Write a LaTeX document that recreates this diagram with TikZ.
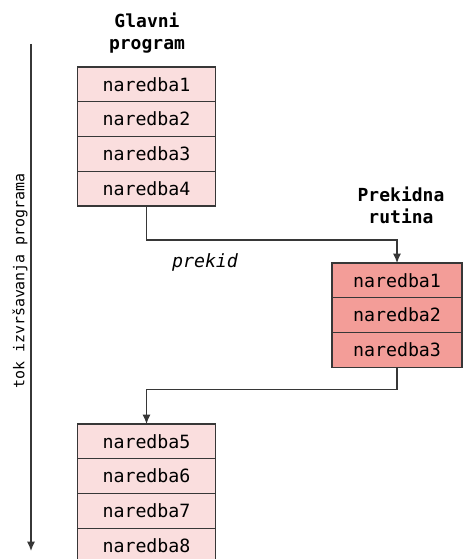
\documentclass[tikz,border=0pt]{standalone}
\usepackage{fontspec}
\usepackage{xcolor}
\usepackage{tikz}
\usetikzlibrary{positioning,arrows.meta}
\newfontfamily\kodfont{DejaVu Sans Mono}
\definecolor{glavnaboja}{RGB}{250,222,222}
\definecolor{prekidboja}{RGB}{243,157,152}
\definecolor{rubboja}{RGB}{55,55,55}
\tikzset{
    naredba/.style={draw=rubboja,
    line width=0.9pt,
    minimum width=104pt,
    minimum height=26.06pt,
    inner sep=0pt,
    outer sep=0pt,
    font=\kodfont\fontsize{13.7}{15}\selectfont},
    glavna/.style={naredba, fill=glavnaboja},
    rutina/.style={naredba, fill=prekidboja, minimum width=97.5pt},
    naslov/.style={align=center, font=\kodfont\bfseries\fontsize{13.5}{16.5}\selectfont},
    veza/.style={draw=rubboja, line width=0.9pt, -{Latex[length=7pt,width=6pt]}}
}

\begin{document}
\begin{tikzpicture}[x=0.75pt,y=-0.75pt]
    \useasboundingbox (0,0) rectangle (463,559);
    \clip (0,0) rectangle (463,559);
    % os toka
    \coordinate (tokpocetak) at (31,44);
    \coordinate (tokkraj) at (31,551);
    \draw[veza] (tokpocetak) -- (tokkraj);
    \node [rotate=90,
    font=\kodfont\fontsize{11.2}{13}\selectfont] (toktekst) at (20,281) {tok izvršavanja programa};
    % glavni program
    \node [naslov] (glavninaslov) at (147,33) {Glavni\\program};
    \node [glavna] (g1) at (146.5,84.4) {naredba1};
    \node [glavna, below=0pt of g1] (g2) {naredba2};
    \node [glavna, below=0pt of g2] (g3) {naredba3};
    \node [glavna, below=0pt of g3] (g4) {naredba4};
    % prekidna rutina
    \node [naslov] (rutinanaslov) at (401,205) {Prekidna\\rutina};
    \node [rutina] (r1) at (397,280.4) {naredba1};
    \node [rutina, below=0pt of r1] (r2) {naredba2};
    \node [rutina, below=0pt of r2] (r3) {naredba3};
    % nastavak
    \node [glavna] (p1) at (146.5,441.4) {naredba5};
    \node [glavna, below=0pt of p1] (p2) {naredba6};
    \node [glavna, below=0pt of p2] (p3) {naredba7};
    \node [glavna, below=0pt of p3] (p4) {naredba8};
    % skokovi
    \draw[veza] (g4.south) -- ++(0,34) -| (r1.north);
    \node [font=\kodfont\itshape\fontsize{13.7}{15}\selectfont] (prekid) at (205,262) {prekid};
    \draw[veza] (r3.south) -- ++(0,22) -| (p1.north);
\end{tikzpicture}
\end{document}
